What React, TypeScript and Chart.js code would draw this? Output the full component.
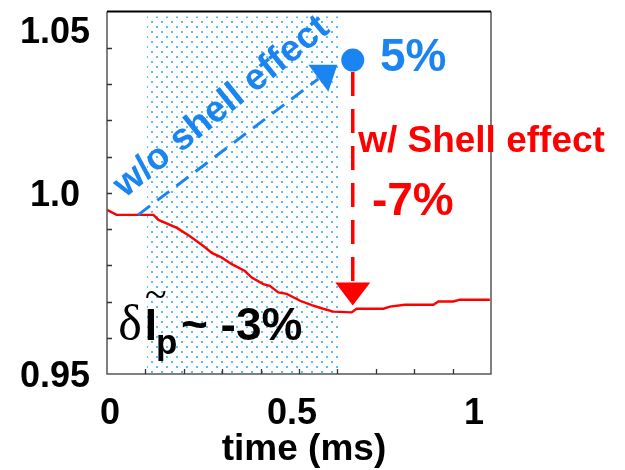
import { useEffect, useRef } from "react";
import { Chart, registerables } from "chart.js";

Chart.register(...registerables);

// Normalised plasma current trace, Ip(t)/Ip(0)
const timeMs = [0, 0.025, 0.121, 0.134, 0.182, 0.216, 0.251, 0.273, 0.299, 0.325, 0.359, 0.377, 0.407, 0.424, 0.446, 0.468, 0.503, 0.533, 0.563, 0.589, 0.637, 0.65, 0.72, 0.737, 0.776, 0.85, 0.863, 0.902, 0.919, 0.997];
const ipNorm = [0.9953, 0.9939, 0.9939, 0.9925, 0.9903, 0.988, 0.9853, 0.9834, 0.9821, 0.9803, 0.9784, 0.9766, 0.9748, 0.9743, 0.9725, 0.9721, 0.9702, 0.969, 0.968, 0.9672, 0.967, 0.968, 0.968, 0.9686, 0.9691, 0.9691, 0.97, 0.97, 0.9705, 0.9705];

// Axis ranges and labels
const xRange = [0, 1];
const yRange = [0.95, 1.05];
const xTickStep = 0.1;
const yTickStep = 0.01;
const xLabelValues = [0, 0.5, 1];
const xLabelTexts = ["0", "0.5", "1"];
const yLabelValues = [0.95, 1.0, 1.05];
const yLabelTexts = ["0.95", "1.0", "1.05"];
const xTitle = "time (ms)";

// Shell-effect time window (dotted band)
const shellWindow = [0.104, 0.609];
const shellTop = 1.0486;

// Expected value without the shell effect, and the arrow tips
const noShellPoint = { x: 0.64, y: 1.0366 };
const noShellArrowStart = { x: 0.081, y: 0.9939 };
const noShellArrowEnd = { x: 0.566, y: 1.0328 };
const withShellTip = { x: 0.64, y: 0.9689 };

// Annotation text anchors (data units)
const noShellLabel = { x: 0.2985, y: 1.0237, text: "w/o shell effect" };
const noShellPct = { x: 0.711, y: 1.0336, text: "5%" };
const withShellLabel = { x: 0.654, y: 1.0112, text: "w/ Shell effect" };
const withShellPct = { x: 0.69, y: 0.994, text: "-7%" };
const deltaLabel = { x: 0.029, y: 0.9593, text: "~ -3%" };

const BLUE = "#1a84f0";
const RED = "#ff0000";
const SANS = "'Liberation Sans', Arial, Helvetica, sans-serif";
const SERIF = "'Liberation Serif', 'Times New Roman', serif";

function makeDotPattern(): CanvasPattern | string {
  const c = document.createElement("canvas");
  c.width = 10;
  c.height = 10;
  const g = c.getContext("2d");
  if (!g) return "rgba(90,185,240,0.3)";
  g.fillStyle = "#5cbcf4";
  g.fillRect(1, 1, 2, 2);
  g.fillRect(6, 6, 2, 2);
  return g.createPattern(c, "repeat") || "rgba(90,185,240,0.3)";
}

const overlay = {
  id: "overlay",
  afterDatasetsDraw(chart: any) {
    const { ctx, chartArea: a, scales } = chart;
    const sx = scales.x;
    const sy = scales.y;
    const px = (v: number) => sx.getPixelForValue(v);
    const py = (v: number) => sy.getPixelForValue(v);
    ctx.save();

    // frame
    ctx.lineWidth = 1.5;
    ctx.strokeStyle = "#555";
    ctx.beginPath();
    ctx.moveTo(a.left, a.top);
    ctx.lineTo(a.left, a.bottom);
    ctx.lineTo(a.right, a.bottom);
    ctx.lineTo(a.right, a.top);
    ctx.stroke();
    ctx.strokeStyle = "#000";
    ctx.lineWidth = 2;
    ctx.beginPath();
    ctx.moveTo(a.left, a.top);
    ctx.lineTo(a.right, a.top);
    ctx.stroke();

    // inward tick marks
    ctx.strokeStyle = "#333";
    ctx.lineWidth = 1.3;
    ctx.beginPath();
    const nx = Math.round((xRange[1] - xRange[0]) / xTickStep);
    for (let k = 1; k < nx; k++) {
      const xx = Math.round(px(xRange[0] + k * xTickStep)) + 0.5;
      ctx.moveTo(xx, a.bottom);
      ctx.lineTo(xx, a.bottom - 5);
    }
    const ny = Math.round((yRange[1] - yRange[0]) / yTickStep);
    for (let k = 1; k < ny; k++) {
      const yy = Math.round(py(yRange[0] + k * yTickStep)) + 0.5;
      ctx.moveTo(a.left, yy);
      ctx.lineTo(a.left + 5, yy);
    }
    ctx.stroke();

    // tick labels
    ctx.fillStyle = "#000";
    ctx.font = `bold 36px ${SANS}`;
    ctx.textBaseline = "alphabetic";
    ctx.textAlign = "center";
    yLabelValues.forEach((v, i) => {
      const cy = Math.max(py(v), a.top + 18);
      ctx.fillText(yLabelTexts[i], a.left - 52, cy + 13);
    });
    xLabelValues.forEach((v, i) => {
      const xx = a.left + 3 + (px(v) - a.left) * 0.948;
      ctx.fillText(xLabelTexts[i], xx, a.bottom + 50);
    });
    ctx.font = `bold 37px ${SANS}`;
    ctx.fillText(xTitle, (a.left + a.right) / 2 + 5, a.bottom + 86);

    // blue dashed arrow (without shell effect)
    const bx0 = px(noShellArrowStart.x), by0 = py(noShellArrowStart.y);
    const bx1 = px(noShellArrowEnd.x), by1 = py(noShellArrowEnd.y);
    ctx.strokeStyle = BLUE;
    ctx.lineWidth = 3;
    ctx.setLineDash([15, 9]);
    ctx.beginPath();
    ctx.moveTo(bx0, by0);
    ctx.lineTo(bx1 - 6, by1 + 5);
    ctx.stroke();
    ctx.setLineDash([]);
    ctx.fillStyle = BLUE;
    ctx.beginPath();
    ctx.moveTo(bx1 - 16, by1 - 9);
    ctx.lineTo(bx1 + 13, by1 - 9);
    ctx.lineTo(bx1 + 4, by1 + 18);
    ctx.closePath();
    ctx.fill();

    // red dashed arrow (with shell effect)
    const rx = px(withShellTip.x);
    const ry0 = py(noShellPoint.y) + 12;
    const ry1 = py(withShellTip.y);
    ctx.strokeStyle = RED;
    ctx.lineWidth = 3.5;
    ctx.setLineDash([24, 13]);
    ctx.beginPath();
    ctx.moveTo(rx, ry0);
    ctx.lineTo(rx, ry1 - 23);
    ctx.stroke();
    ctx.setLineDash([]);
    ctx.fillStyle = RED;
    ctx.beginPath();
    ctx.moveTo(rx - 17.5, ry1 - 23);
    ctx.lineTo(rx + 17.5, ry1 - 23);
    ctx.lineTo(rx, ry1);
    ctx.closePath();
    ctx.fill();

    // rotated blue label
    ctx.save();
    ctx.translate(px(noShellLabel.x), py(noShellLabel.y));
    ctx.rotate((-39 * Math.PI) / 180);
    ctx.fillStyle = BLUE;
    ctx.font = `bold 37px ${SANS}`;
    ctx.textAlign = "center";
    ctx.textBaseline = "middle";
    ctx.fillText(noShellLabel.text, 0, 0);
    ctx.restore();

    ctx.textAlign = "left";
    ctx.textBaseline = "alphabetic";
    ctx.fillStyle = BLUE;
    ctx.font = `bold 46px ${SANS}`;
    ctx.fillText(noShellPct.text, px(noShellPct.x), py(noShellPct.y));

    ctx.fillStyle = RED;
    ctx.font = `bold 37px ${SANS}`;
    ctx.fillText(withShellLabel.text, px(withShellLabel.x), py(withShellLabel.y));
    ctx.font = `bold 46px ${SANS}`;
    ctx.fillText(withShellPct.text, px(withShellPct.x), py(withShellPct.y));

    // δ Ĩ_p ~ -3%
    const dx = px(deltaLabel.x);
    const dy = py(deltaLabel.y);
    ctx.fillStyle = "#000";
    ctx.font = `50px ${SERIF}`;
    ctx.fillText("δ", dx, dy);
    const dw = ctx.measureText("δ").width;
    ctx.font = `bold 44px ${SANS}`;
    const ix = dx + dw + 3;
    ctx.fillText("I", ix, dy);
    const iw = ctx.measureText("I").width;
    ctx.font = `40px ${SERIF}`;
    ctx.textAlign = "center";
    ctx.fillText("~", ix + iw / 2 + 5, dy - 32);
    ctx.textAlign = "left";
    ctx.font = `bold 35px ${SANS}`;
    ctx.fillText("p", ix + iw - 1, dy + 14);
    ctx.font = `bold 46px ${SANS}`;
    ctx.fillText(deltaLabel.text, ix + iw + 24, dy);

    ctx.restore();
  },
};

export default function App() {
  const ref = useRef<HTMLCanvasElement>(null);

  useEffect(() => {
    if (!ref.current) return;
    const dots = makeDotPattern();
    const chart = new Chart(ref.current, {
      type: "line",
      data: {
        datasets: [
          {
            label: "shell window",
            data: [
              { x: shellWindow[0], y: shellTop },
              { x: shellWindow[1], y: shellTop },
            ],
            fill: "start",
            backgroundColor: dots as any,
            borderWidth: 0,
            pointRadius: 0,
            order: 3,
          },
          {
            label: "Ip",
            data: timeMs.map((t, i) => ({ x: t, y: ipNorm[i] })),
            borderColor: RED,
            borderWidth: 2.4,
            pointRadius: 0,
            tension: 0,
            fill: false,
            order: 1,
          },
          {
            label: "w/o shell",
            data: [noShellPoint],
            showLine: false,
            pointRadius: 11.5,
            pointBackgroundColor: BLUE,
            pointBorderWidth: 0,
            order: 0,
          },
        ],
      },
      options: {
        responsive: false,
        animation: false,
        devicePixelRatio: 1,
        layout: { padding: { left: 107, top: 8, right: 134, bottom: 96 } },
        scales: {
          x: { type: "linear", min: xRange[0], max: xRange[1], display: false },
          y: { type: "linear", min: yRange[0], max: yRange[1], display: false },
        },
        plugins: { legend: { display: false }, tooltip: { enabled: false } },
      },
      plugins: [overlay],
    });
    return () => chart.destroy();
  }, []);

  return (
    <div style={{ position: "absolute", left: 0, top: 0, width: 625, height: 470, background: "#fff" }}>
      <canvas ref={ref} width={625} height={470} style={{ display: "block", width: 625, height: 470 }} />
    </div>
  );
}
